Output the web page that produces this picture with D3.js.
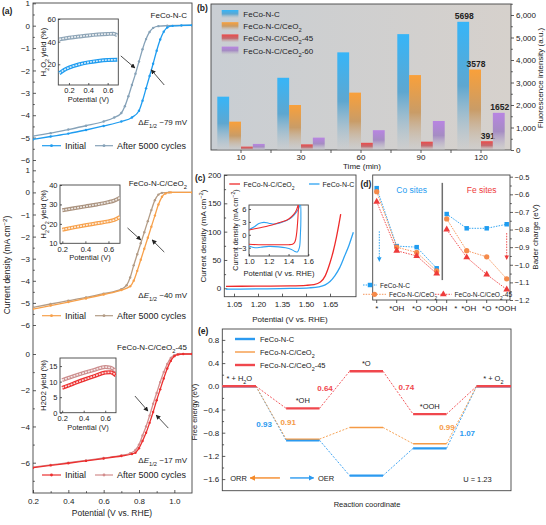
<!DOCTYPE html>
<html>
<head>
<meta charset="utf-8">
<title>FeCo-N-C / CeO2 panels</title>
<script src="https://cdnjs.cloudflare.com/ajax/libs/d3/7.8.5/d3.min.js"></script>
<style>
  body { margin: 0; background: #fff; }
  svg { font-family: "Liberation Sans", Arial, sans-serif; }
</style>
</head>
<body>
<svg id="fig" width="546" height="525"></svg>
<script>
// ---- (a) ORR polarization curves: [potential (V vs RHE), current density (mA cm-2)] ----
const ncInit   = [[0.2,-5.08],[0.3,-4.95],[0.4,-4.82],[0.5,-4.66],[0.6,-4.48],[0.7,-4.28],[0.76,-4.1],[0.8,-3.8],[0.82,-3.35],[0.84,-2.8],[0.86,-2.25],[0.88,-1.7],[0.9,-1.12],[0.92,-0.62],[0.94,-0.27],[0.96,-0.08],[0.99,-0.01],[1.04,0.01],[1.1,0.02]];
const ncAfter  = [[0.2,-4.93],[0.3,-4.8],[0.4,-4.64],[0.5,-4.47],[0.6,-4.28],[0.66,-4.1],[0.7,-3.9],[0.72,-3.6],[0.74,-3.15],[0.76,-2.65],[0.78,-2.15],[0.8,-1.6],[0.82,-1.05],[0.84,-0.6],[0.86,-0.28],[0.88,-0.1],[0.91,-0.02],[0.96,0],[1.1,0.02]];
const ceInit   = [[0.2,-5.28],[0.3,-5.12],[0.4,-4.96],[0.5,-4.8],[0.6,-4.62],[0.7,-4.42],[0.75,-4.25],[0.77,-4.0],[0.79,-3.55],[0.81,-3.05],[0.83,-2.55],[0.85,-2.05],[0.87,-1.55],[0.89,-1.05],[0.91,-0.55],[0.93,-0.2],[0.95,-0.05],[0.98,0],[1.1,0]];
const ceAfter  = [[0.2,-5.2],[0.3,-5.05],[0.4,-4.9],[0.5,-4.75],[0.6,-4.58],[0.7,-4.38],[0.73,-4.2],[0.75,-3.85],[0.77,-3.3],[0.79,-2.8],[0.81,-2.3],[0.83,-1.8],[0.85,-1.3],[0.87,-0.8],[0.89,-0.35],[0.91,-0.1],[0.93,-0.02],[0.97,0],[1.1,0]];
const c45Init  = [[0.2,-6.28],[0.3,-6.15],[0.4,-6.03],[0.5,-5.9],[0.6,-5.77],[0.7,-5.63],[0.76,-5.52],[0.78,-5.45],[0.8,-5.2],[0.82,-4.8],[0.84,-4.35],[0.86,-3.8],[0.88,-3.2],[0.9,-2.55],[0.92,-1.95],[0.94,-1.35],[0.96,-0.8],[0.98,-0.38],[1.0,-0.12],[1.02,-0.03],[1.05,0],[1.1,0]];
const c45After = [[0.2,-6.25],[0.3,-6.12],[0.4,-6.0],[0.5,-5.87],[0.6,-5.74],[0.7,-5.6],[0.75,-5.48],[0.78,-5.3],[0.8,-5.0],[0.82,-4.5],[0.84,-4.0],[0.86,-3.4],[0.88,-2.75],[0.9,-2.15],[0.92,-1.55],[0.94,-1.0],[0.96,-0.55],[0.98,-0.22],[1.0,-0.06],[1.03,0],[1.1,0]];
// insets: H2O2 yield (%) vs potential (V)
const ncYieldInit   = [[0.1,12],[0.15,15],[0.2,17],[0.3,19.8],[0.4,21.7],[0.5,23],[0.6,23.8],[0.7,24]];
const ncYieldAfter  = [[0.1,42],[0.2,43.5],[0.3,44.5],[0.4,45.5],[0.5,46.3],[0.6,46.8],[0.66,47],[0.7,45.5]];
const ceYieldInit   = [[0.2,17],[0.3,18.2],[0.4,19.3],[0.5,20.3],[0.6,21.3],[0.65,22],[0.7,23.5]];
const ceYieldAfter  = [[0.2,27],[0.3,28],[0.4,29],[0.5,30],[0.6,31.2],[0.65,32],[0.7,33.5]];
const c45YieldInit  = [[0.2,8],[0.3,9.3],[0.4,10.6],[0.5,11.8],[0.6,12.9],[0.65,13],[0.7,12]];
const c45YieldAfter = [[0.2,10.5],[0.3,11.7],[0.4,12.8],[0.5,13.8],[0.6,14.7],[0.65,14.5],[0.7,13.3]];

// ---- (b) fluorescence intensity vs time ----
const times = [10, 30, 60, 90, 120];
const samples = ['FeCo-N-C', 'FeCo-N-C/CeO2', 'FeCo-N-C/CeO2-45', 'FeCo-N-C/CeO2-60'];
const fluoNC = [2370, 3210, 4340, 5150, 5698];
const fluoCe = [1260, 2000, 2550, 3330, 3578];
const fluo45 = [150, 250, 320, 370, 391];
const fluo60 = [270, 550, 880, 1290, 1652];
const fluoTicks = [0, 1000, 2000, 3000, 4000, 5000, 6000];

// ---- (c) OER LSV and CV inset ----
const oerCe = [[1.0,3.5],[1.2,3.8],[1.4,4.3],[1.5,5.2],[1.55,6.5],[1.59,11],[1.62,22],[1.65,45],[1.67,65],[1.69,90],[1.705,112],[1.717,131]];
const oerNC = [[1.0,-1.5],[1.2,-1],[1.4,-0.3],[1.52,0.8],[1.58,2.5],[1.62,6],[1.65,12],[1.68,22],[1.71,36],[1.74,56],[1.77,77],[1.796,99]];
const cvNC = [[1.0,1.2],[1.05,1.8],[1.1,2.6],[1.15,2.9],[1.2,2.7],[1.26,2.5],[1.32,2.8],[1.38,3.3],[1.43,4.0],[1.47,5.0],[1.5,6.0],[1.52,7.2],[1.525,4],[1.52,0],[1.51,-3],[1.49,-4.0],[1.46,-3.8],[1.43,-3.4],[1.37,-3.0],[1.3,-2.8],[1.2,-2.7],[1.12,-2.9],[1.06,-3.0],[1.0,-2.6]];
const cvCe = [[1.0,1.1],[1.1,1.6],[1.2,2.1],[1.3,2.8],[1.38,3.4],[1.43,4.2],[1.47,5.3],[1.49,6.4],[1.5,7.2],[1.495,4],[1.48,0],[1.465,-1.6],[1.44,-2.2],[1.4,-2.3],[1.3,-2.3],[1.2,-2.3],[1.1,-2.3],[1.0,-2.2]];

// ---- (d) Bader charge (eV), Co sites then Fe sites ----
const dSites = ['*', '*OH', '*O', '*OOH', '*', '*OH', '*O', '*OOH'];
const dPos = [0, 1, 2, 3, 3.5, 4.5, 5.5, 6.5];
const dLabelPos = [0, 1, 2, 3, 3.95, 4.6, 5.5, 6.45];
const baderNC = [-0.565, -0.894, -0.90, -1.02, -0.712, -0.793, -0.793, -0.77];
const baderCe = [-0.585, -0.90, -0.93, -1.035, -0.74, -0.92, -0.955, -1.08];
const bader45 = [-0.642, -0.92, -0.95, -1.05, -0.80, -0.958, -1.055, -1.14];

// ---- (e) free energy diagram (eV) ----
const eSteps = ['* + H2O', '*OH', '*O', '*OOH', '* + O2'];
const gNC = [0, -0.93, -1.54, -1.07, 0];
const gCe = [0, -0.91, -0.71, -0.99, 0];
const g45 = [0, -0.38, 0.26, -0.48, 0];
// step-gap labels: [x (step units), energy, text, series]
const eGaps = [[1.35,-0.03,'0.64',2],[2.63,-0.01,'0.74',2],[0.39,-0.65,'0.93',0],[0.77,-0.61,'0.91',1],[3.27,-0.70,'0.99',1],[3.59,-0.80,'1.07',0]];

const svg = d3.select('#fig');
const defs = svg.append('defs');
const INK = '#333';

function styleAxis(g, size) {
  g.select('.domain').remove();
  g.selectAll('.tick line').attr('stroke', INK).attr('stroke-width', 0.8);
  g.selectAll('.tick text').attr('font-size', size).attr('fill', '#222');
  return g;
}
function frame(x0, y0, x1, y1, fill) {
  return svg.append('rect').attr('x', x0).attr('y', y0).attr('width', x1 - x0).attr('height', y1 - y0)
    .attr('fill', fill || 'none').attr('stroke', '#444').attr('stroke-width', 0.9);
}
function clip(id, x0, y0, x1, y1) {
  defs.append('clipPath').attr('id', id).append('rect')
    .attr('x', x0).attr('y', y0).attr('width', x1 - x0).attr('height', y1 - y0);
  return 'url(#' + id + ')';
}
// parts: strings or {sub}, {sup}, {i}
function rich(sel, parts) {
  parts.forEach(p => {
    const t = sel.append('tspan');
    if (typeof p === 'string') t.text(p);
    else if (p.sub) t.attr('baseline-shift', 'sub').attr('font-size', '72%').text(p.sub);
    else if (p.sup) t.attr('baseline-shift', 'super').attr('font-size', '72%').text(p.sup);
    else if (p.i) t.attr('font-style', 'italic').text(p.i);
  });
  return sel;
}
function text(x, y, parts, size, opt = {}) {
  const t = svg.append('text').attr('x', x).attr('y', y).attr('font-size', size)
    .attr('fill', opt.fill || '#222').attr('text-anchor', opt.anchor || 'start');
  if (opt.bold) t.attr('font-weight', 'bold');
  if (opt.rot) t.attr('transform', `rotate(-90,${x},${y})`);
  return rich(t, typeof parts === 'string' ? [parts] : parts);
}
function arrowMarker(id, color, w) {
  defs.append('marker').attr('id', id).attr('viewBox', '0 0 10 10').attr('refX', 9).attr('refY', 5)
    .attr('markerWidth', w).attr('markerHeight', w).attr('orient', 'auto')
    .append('path').attr('d', 'M0,0L10,5L0,10z').attr('fill', color);
}
arrowMarker('arrK', '#222', 6);
arrowMarker('arrB', '#1e9cf0', 5);
arrowMarker('arrR', '#ee3b3b', 5);
arrowMarker('arrO', '#f58a2a', 4);
arrowMarker('arrE', '#2b9af0', 4);

const cdLabel = ['Current density (mA cm', {sup: '\u22122'}, ')'];
const h2o2Label = ['H', {sub: '2'}, 'O', {sub: '2'}, ' yield (%)'];

// ======================= (a) =======================
const ax = d3.scaleLinear([0.2, 1.1], [33, 192]);
const aSubs = [
  { y: d3.scaleLinear([1, -6], [3.3, 160]), top: 3, bot: 168, ticks: [1,0,-1,-2,-3,-4,-5,-6],
    init: ncInit, after: ncAfter, cI: '#1e9cf0', cA: '#86a2b8', legY: 145.7, nameY: 18,
    name: ['FeCo-N-C'], de: ' ~79 mV', deY: 124.5,
    arrows: [[[0.697,-1.35],[0.777,-1.89]], [[0.943,-2.65],[0.869,-1.97]]],
    inset: { f: [58.3, 19, 118.3, 85], x: [0.09, 0.71], y: d3.scaleLinear([60, 20], [19, 64.3]),
             yt: [20, 40, 60], init: ncYieldInit, after: ncYieldAfter, cA: '#8ea5b7', lab: h2o2Label } },
  { y: d3.scaleLinear([1, -6], [170.3, 325]), top: 168, bot: 337, ticks: [1,0,-1,-2,-3,-4,-5,-6],
    init: ceInit, after: ceAfter, cI: '#f7a04a', cA: '#b39c86', legY: 315.7, nameY: 186,
    name: ['FeCo-N-C/CeO', {sub: '2'}], de: ' ~40 mV', deY: 298,
    arrows: [[[0.735,-1.61],[0.81,-2.15]], [[0.943,-2.70],[0.874,-2.15]]],
    inset: { f: [60, 185, 120, 243.3], x: [0.18, 0.7], y: d3.scaleLinear([40, 10], [185, 243.3]),
             yt: [10, 20, 30, 40], init: ceYieldInit, after: ceYieldAfter, cA: '#aa927e', lab: h2o2Label } },
  { y: d3.scaleLinear([0, -6], [354, 462.7]), top: 337, bot: 493, ticks: [0,-2,-4,-6],
    init: c45Init, after: c45After, cI: '#ec2f2f', cA: '#d38d8d', legY: 475, nameY: 349.5,
    name: ['FeCo-N-C/CeO', {sub: '2'}, '-45'], de: ' ~17 mV', deY: 463,
    arrows: [[[0.777,-2.32],[0.851,-3.15]], [[0.966,-4.09],[0.897,-3.37]]],
    inset: { f: [60, 358, 116, 412.7], x: [0.18, 0.7], y: d3.scaleLinear([0, 17.6], [412.7, 358]),
             yt: [0, 5, 10, 15], init: c45YieldInit, after: c45YieldAfter, cA: '#cc8d8d', lab: 'H2O2 yield (%)' } }
];

frame(33, 3, 192, 493);
aSubs.forEach((s, k) => {
  styleAxis(svg.append('g').attr('transform', 'translate(33,0)')
    .call(d3.axisLeft(s.y).tickValues(s.ticks).tickSize(-3).tickPadding(3).tickFormat(d3.format('d'))), 8);
  const minor = s.ticks.slice(0, -1).map((t, i) => (t + s.ticks[i + 1]) / 2).concat([s.ticks[s.ticks.length - 1] - (s.ticks[0] - s.ticks[1]) / 2]);
  styleAxis(svg.append('g').attr('transform', 'translate(33,0)')
    .call(d3.axisLeft(s.y).tickValues(minor.filter(v => s.y(v) < s.bot - 1)).tickSize(-1.8).tickFormat('')), 8);

  const cp = clip('aclip' + k, 33, s.top, 192, s.bot);
  const line = d3.line().x(d => ax(d[0])).y(d => s.y(d[1])).curve(d3.curveMonotoneX);
  const g = svg.append('g').attr('clip-path', cp);
  [[s.after, s.cA], [s.init, s.cI]].forEach(([data, col]) => {
    g.append('path').datum(data).attr('d', line).attr('fill', 'none').attr('stroke', col).attr('stroke-width', 1.3);
    g.selectAll(null).data(data).join('circle').attr('cx', d => ax(d[0])).attr('cy', d => s.y(d[1]))
      .attr('r', 1.2).attr('fill', col);
  });

  // arrows
  s.arrows.forEach(a => svg.append('line')
    .attr('x1', ax(a[0][0])).attr('y1', s.y(a[0][1])).attr('x2', ax(a[1][0])).attr('y2', s.y(a[1][1]))
    .attr('stroke', '#222').attr('stroke-width', 0.8).attr('marker-end', 'url(#arrK)'));

  // labels
  text(187, s.nameY, s.name, 8, { anchor: 'end' });
  text(187, s.deY, ['\u0394', {i: 'E'}, {sub: '1/2'}, s.de], 8, { anchor: 'end' });

  // legend
  [[42, 61, s.cI, 'Initial', 65], [95, 113, s.cA, 'After 5000 cycles', 117]].forEach(([x1, x2, col, lab, tx]) => {
    svg.append('line').attr('x1', x1).attr('x2', x2).attr('y1', s.legY).attr('y2', s.legY)
      .attr('stroke', col).attr('stroke-width', 1.2);
    svg.append('circle').attr('cx', (x1 + x2) / 2).attr('cy', s.legY).attr('r', 1.4).attr('fill', col);
    text(tx, s.legY + 3.2, lab, 9);
  });

  // inset
  const ins = s.inset, f = ins.f;
  const ix = d3.scaleLinear(ins.x, [f[0], f[2]]);
  frame(f[0], f[1], f[2], f[3], '#fff');
  styleAxis(svg.append('g').attr('transform', `translate(0,${f[3]})`)
    .call(d3.axisBottom(ix).tickValues([0.2, 0.4, 0.6]).tickSize(-2).tickPadding(3).tickFormat(d3.format('.1f'))), 7.5);
  styleAxis(svg.append('g').attr('transform', `translate(${f[0]},0)`)
    .call(d3.axisLeft(ins.y).tickValues(ins.yt).tickSize(-2).tickPadding(2.5)), 7.5);
  const icp = clip('iclip' + k, f[0], f[1], f[2], f[3]);
  const il = d3.line().x(d => ix(d[0])).y(d => ins.y(d[1])).curve(d3.curveMonotoneX);
  const ig = svg.append('g').attr('clip-path', icp);
  [[ins.after, ins.cA], [ins.init, s.cI]].forEach(([data, col]) => {
    ig.append('path').datum(data).attr('d', il).attr('fill', 'none').attr('stroke', col).attr('stroke-width', 4);
    ig.append('path').datum(data).attr('d', il).attr('fill', 'none').attr('stroke', '#fff')
      .attr('stroke-width', 1.6).attr('stroke-opacity', 0.8).attr('stroke-dasharray', '2,1');
  });
  text((f[0] + f[2]) / 2, f[3] + 17, 'Potential (V)', 7.5, { anchor: 'middle' });
  text(46, (f[1] + f[3]) / 2, ins.lab, 7.5, { anchor: 'middle', rot: true });
});
styleAxis(svg.append('g').attr('transform', 'translate(0,493)')
  .call(d3.axisBottom(ax).tickValues([0.2, 0.4, 0.6, 0.8, 1.0]).tickSize(-3).tickPadding(5).tickFormat(d3.format('.1f'))), 8);
styleAxis(svg.append('g').attr('transform', 'translate(0,493)')
  .call(d3.axisBottom(ax).tickValues([0.3, 0.5, 0.7, 0.9]).tickSize(-1.8).tickFormat('')), 8);
text(112, 516, 'Potential (V vs. RHE)', 8.5, { anchor: 'middle' });
text(10, 265, cdLabel, 8.5, { anchor: 'middle', rot: true });
text(2, 14, '(a)', 8.5, { bold: true });

// ======================= (b) =======================
const bx0 = d3.scaleBand(times, [211, 511]).paddingInner(0.21).paddingOuter(0.105);
const bx1 = d3.scaleBand(samples, [0, bx0.bandwidth()]);
const by = d3.scaleLinear([0, 6500], [150, 3.75]);
const bSeries = [fluoNC, fluoCe, fluo45, fluo60];
const bCols = ['#36b5f8', '#f9a03a', '#ec4a4a', '#b884e2'];

const bgGrad = defs.append('linearGradient').attr('id', 'bbg').attr('x1', 0).attr('x2', 1).attr('y1', 0).attr('y2', 0);
bgGrad.append('stop').attr('offset', 0).attr('stop-color', '#c9ced3');
bgGrad.append('stop').attr('offset', 1).attr('stop-color', '#d6d1cc');
frame(211, 4, 511, 150, 'url(#bbg)');
bCols.forEach((c, k) => {
  const gr = defs.append('linearGradient').attr('id', 'bar' + k).attr('x1', 0).attr('x2', 0).attr('y1', 0).attr('y2', 1);
  gr.append('stop').attr('offset', 0).attr('stop-color', c);
  gr.append('stop').attr('offset', 0.5).attr('stop-color', d3.interpolateRgb(c, '#8e969e')(0.45));
  gr.append('stop').attr('offset', 1).attr('stop-color', '#c8cacc').attr('stop-opacity', 0.4);
});
samples.forEach((s, k) => {
  svg.append('g').selectAll('rect').data(times).join('rect')
    .attr('x', t => bx0(t) + bx1(s)).attr('width', bx1.bandwidth())
    .attr('y', (t, i) => by(bSeries[k][i])).attr('height', (t, i) => by(0) - by(bSeries[k][i]))
    .attr('fill', `url(#bar${k})`);
  const last = times.length - 1;
  text(bx0(times[last]) + bx1(s) + bx1.bandwidth() / 2 + 1, by(bSeries[k][last]) - 2.5,
    String(bSeries[k][last]), 8.5, { anchor: 'middle', bold: true });
});
styleAxis(svg.append('g').attr('transform', 'translate(0,150)')
  .call(d3.axisBottom(bx0).tickSize(3).tickPadding(1)), 8);
svg.append('g').selectAll('line').data(times.slice(0, -1)).join('line')
  .attr('x1', t => bx0(t) + bx0.bandwidth() / 2 + bx0.step() / 2).attr('x2', t => bx0(t) + bx0.bandwidth() / 2 + bx0.step() / 2)
  .attr('y1', 150).attr('y2', 153).attr('stroke', INK).attr('stroke-width', 0.8);
styleAxis(svg.append('g').attr('transform', 'translate(511,0)')
  .call(d3.axisRight(by).tickValues(fluoTicks).tickSize(3).tickPadding(2)), 8);
styleAxis(svg.append('g').attr('transform', 'translate(511,0)')
  .call(d3.axisRight(by).tickValues(fluoTicks.map(v => v + 500)).tickSize(1.8).tickFormat('')), 8);
const bNames = [['FeCo-N-C'], ['FeCo-N-C/CeO', {sub: '2'}], ['FeCo-N-C/CeO', {sub: '2'}, '-45'], ['FeCo-N-C/CeO', {sub: '2'}, '-60']];
bNames.forEach((n, k) => {
  const yy = 14 + k * 12.2;
  svg.append('rect').attr('x', 221.7).attr('y', yy - 4).attr('width', 16.7).attr('height', 8).attr('fill', `url(#bar${k})`);
  text(243.3, yy + 3, n, 8);
});
text(362, 168.5, 'Time (min)', 8, { anchor: 'middle' });
text(543, 78, 'Fluorescence intensity (a.u.)', 8, { anchor: 'middle', rot: true });
text(197, 11, '(b)', 8.5, { bold: true });

// ======================= (c) =======================
const cx = d3.scaleLinear([1.05, 1.65], [234, 330]);
const cy = d3.scaleLinear([0, 200], [288.3, 175]);
frame(224.3, 175, 356, 296.7);
styleAxis(svg.append('g').attr('transform', 'translate(224.3,0)')
  .call(d3.axisLeft(cy).tickValues([0, 50, 100, 150, 200]).tickSize(-3).tickPadding(3)), 8);
styleAxis(svg.append('g').attr('transform', 'translate(224.3,0)')
  .call(d3.axisLeft(cy).tickValues([25, 75, 125, 175]).tickSize(-1.8).tickFormat('')), 8);
styleAxis(svg.append('g').attr('transform', 'translate(0,296.7)')
  .call(d3.axisBottom(cx).tickValues([1.05, 1.2, 1.35, 1.5, 1.65]).tickSize(-3).tickPadding(5).tickFormat(d3.format('.2f'))), 8);
const ccp = clip('cclip', 224.3, 175, 356, 296.7);
const cline = d3.line().x(d => cx(d[0])).y(d => cy(d[1])).curve(d3.curveMonotoneX);
const cg = svg.append('g').attr('clip-path', ccp);
cg.append('path').datum(oerNC).attr('d', cline).attr('fill', 'none').attr('stroke', '#2ea3f2').attr('stroke-width', 1.3);
cg.append('path').datum(oerCe).attr('d', cline).attr('fill', 'none').attr('stroke', '#ee2a2a').attr('stroke-width', 1.3);
// legend
svg.append('line').attr('x1', 229.3).attr('x2', 240).attr('y1', 184).attr('y2', 184).attr('stroke', '#ee2a2a').attr('stroke-width', 1.3);
text(243.5, 186.6, ['FeCo-N-C/CeO', {sub: '2'}], 7);
svg.append('line').attr('x1', 309).attr('x2', 319.5).attr('y1', 184).attr('y2', 184).attr('stroke', '#2ea3f2').attr('stroke-width', 1.3);
text(322.5, 186.6, 'FeCo-N-C', 7);
// inset CV
const cix = d3.scaleLinear([1.0, 1.6], [249, 308.3]);
const ciy = d3.scaleLinear([-3, 6], [247.7, 209]);
frame(249, 205, 308.3, 256, '#fff');
styleAxis(svg.append('g').attr('transform', 'translate(249,0)')
  .call(d3.axisLeft(ciy).tickValues([-3, 0, 3, 6]).tickSize(-2).tickPadding(2.5)), 7.5);
styleAxis(svg.append('g').attr('transform', 'translate(0,256)')
  .call(d3.axisBottom(cix).tickValues([1.0, 1.2, 1.4, 1.6]).tickSize(-2).tickPadding(3).tickFormat(d3.format('.1f'))), 7.5);
const cicp = clip('ciclip', 249, 205, 308.3, 256);
const cvl = d3.line().x(d => cix(d[0])).y(d => ciy(d[1])).curve(d3.curveCatmullRom.alpha(0.5));
const cig = svg.append('g').attr('clip-path', cicp);
cig.append('path').datum(cvNC).attr('d', cvl).attr('fill', 'none').attr('stroke', '#2ea3f2').attr('stroke-width', 1.1);
cig.append('path').datum(cvCe).attr('d', cvl).attr('fill', 'none').attr('stroke', '#ee2a2a').attr('stroke-width', 1.1);
text(279, 276, 'Potential (V vs. RHE)', 7.5, { anchor: 'middle' });
text(238, 230, cdLabel, 7, { anchor: 'middle', rot: true });
text(206, 236, cdLabel, 8, { anchor: 'middle', rot: true });
text(290, 322, 'Potential (V vs. RHE)', 8, { anchor: 'middle' });
text(195, 181, '(c)', 8.5, { bold: true });

// ======================= (d) =======================
const dx = d3.scaleLinear([0, 6.5], [376.7, 506.7]);
const dy = d3.scaleLinear([-0.5, -1.2], [176.7, 300]);
frame(372.7, 175, 510, 300);
styleAxis(svg.append('g').attr('transform', 'translate(510,0)')
  .call(d3.axisRight(dy).tickValues(d3.range(-0.5, -1.25, -0.1)).tickSize(3).tickPadding(1.5).tickFormat(d3.format('.1f'))), 7.5);
styleAxis(svg.append('g').attr('transform', 'translate(510,0)')
  .call(d3.axisRight(dy).tickValues(d3.range(-0.55, -1.2, -0.1)).tickSize(1.8).tickFormat('')), 8);
const dAxis = svg.append('g').attr('transform', 'translate(0,300)');
dAxis.selectAll('line').data(dPos).join('line').attr('x1', p => dx(p)).attr('x2', p => dx(p))
  .attr('y1', 0).attr('y2', 3).attr('stroke', INK).attr('stroke-width', 0.8);
dSites.forEach((s, i) => text(dx(dLabelPos[i]), 311, s, 8, { anchor: 'middle' }));
svg.append('line').attr('x1', dx(3.28)).attr('x2', dx(3.28)).attr('y1', dy(-0.535)).attr('y2', dy(-1.087))
  .attr('stroke', '#6f6f6f').attr('stroke-width', 1.5);
const dSeries = [
  { v: baderNC, c: '#1e9cf0', sym: d3.symbolSquare, size: 20, name: ['FeCo-N-C'] },
  { v: baderCe, c: '#f58a4a', sym: d3.symbolCircle, size: 22, name: ['FeCo-N-C/CeO', {sub: '2'}] },
  { v: bader45, c: '#ee3b3b', sym: d3.symbolTriangle, size: 20, name: ['FeCo-N-C/CeO', {sub: '2'}, '-45'] }
];
const dl = d3.line().x(d => dx(d[0])).y(d => dy(d[1]));
dSeries.forEach(s => {
  const pts = dPos.map((p, i) => [p, s.v[i]]);
  [pts.slice(0, 4), pts.slice(4)].forEach(seg => svg.append('path').datum(seg).attr('d', dl)
    .attr('fill', 'none').attr('stroke', s.c).attr('stroke-width', 0.9).attr('stroke-dasharray', '1.5,1.2'));
  svg.append('g').selectAll('path').data(pts).join('path')
    .attr('transform', d => `translate(${dx(d[0])},${dy(d[1])})`)
    .attr('d', d3.symbol(s.sym, s.size)).attr('fill', s.c);
});
svg.append('line').attr('x1', dx(0.13)).attr('x2', dx(0.13)).attr('y1', dy(-0.81)).attr('y2', dy(-0.98))
  .attr('stroke', '#1e9cf0').attr('stroke-width', 0.9).attr('stroke-dasharray', '1.5,1.2').attr('marker-end', 'url(#arrB)');
svg.append('line').attr('x1', dx(6.5)).attr('x2', dx(6.5)).attr('y1', dy(-0.82)).attr('y2', dy(-0.97))
  .attr('stroke', '#ee3b3b').attr('stroke-width', 0.9).attr('stroke-dasharray', '1.5,1.2').attr('marker-end', 'url(#arrR)');
text(411.7, 192.5, 'Co sites', 8.5, { anchor: 'middle', fill: '#1e9cf0' });
text(481.7, 192.5, 'Fe sites', 8.5, { anchor: 'middle', fill: '#ee3b3b' });
// legend
[[363, 377, 285, 380, 0], [363, 386, 294.3, 389, 1], [435, 451.7, 294.3, 454.5, 2]].forEach(([x1, x2, yy, tx, k]) => {
  const s = dSeries[k];
  svg.append('line').attr('x1', x1).attr('x2', x2).attr('y1', yy).attr('y2', yy)
    .attr('stroke', s.c).attr('stroke-width', 0.9).attr('stroke-dasharray', '1.5,1.2');
  svg.append('path').attr('transform', `translate(${(x1 + x2) / 2},${yy})`).attr('d', d3.symbol(s.sym, s.size)).attr('fill', s.c);
  text(tx, yy + 2.5, s.name, 6.6);
});
text(538, 237, 'Bader charge (eV)', 8, { anchor: 'middle', rot: true });
text(360.5, 187, '(d)', 8.5, { bold: true });

// ======================= (e) =======================
const ex = d3.scaleLinear([0, 4], [239.3, 493.3]);
const ey = d3.scaleLinear([-1.8, 1.0], [490.7, 328.3]);
const hw = 16.7;
frame(222.3, 329, 511, 490.7);
styleAxis(svg.append('g').attr('transform', 'translate(222.3,0)')
  .call(d3.axisLeft(ey).tickValues([0.8, 0.4, 0, -0.4, -0.8, -1.2, -1.6]).tickSize(-3).tickPadding(3).tickFormat(d3.format('.1f'))), 8);
styleAxis(svg.append('g').attr('transform', 'translate(222.3,0)')
  .call(d3.axisLeft(ey).tickValues([0.6, 0.2, -0.2, -0.6, -1.0, -1.4]).tickSize(-1.8).tickFormat('')), 8);
const eSeries = [
  { g: gNC, c: '#2b9af0', w: 2.4, name: ['FeCo-N-C'] },
  { g: gCe, c: '#f59a45', w: 1.4, name: ['FeCo-N-C/CeO', {sub: '2'}] },
  { g: g45, c: '#f0474d', w: 2.4, name: ['FeCo-N-C/CeO', {sub: '2'}, '-45'] }
];
const xL = i => i === 0 ? 222.3 : ex(i) - hw;
const xR = i => i === eSteps.length - 1 ? 511 : ex(i) + hw;
eSeries.forEach(s => {
  s.g.slice(0, -1).forEach((v, i) => svg.append('line')
    .attr('x1', xR(i)).attr('y1', ey(v)).attr('x2', xL(i + 1)).attr('y2', ey(s.g[i + 1]))
    .attr('stroke', s.c).attr('stroke-width', 0.9).attr('stroke-dasharray', '2,1.5'));
  svg.append('g').selectAll('line').data(s.g).join('line')
    .attr('x1', (v, i) => xL(i)).attr('x2', (v, i) => xR(i)).attr('y1', v => ey(v)).attr('y2', v => ey(v))
    .attr('stroke', s.c).attr('stroke-width', s.w);
});
const stepParts = [['* + H', {sub: '2'}, 'O'], ['*OH'], ['*O'], ['*OOH'], ['* + O', {sub: '2'}]];
eSteps.forEach((s, i) => {
  const top = d3.max(eSeries, d => d.g[i]);
  text(ex(i), ey(top) - 5, stepParts[i], 7.5, { anchor: 'middle' });
});
eGaps.forEach(([p, v, t, k]) => text(ex(p), ey(v) + 3, t, 8, { anchor: 'middle', bold: true, fill: eSeries[k].c }));
eSeries.forEach((s, k) => {
  const yy = [339, 352, 365][k];
  svg.append('line').attr('x1', 235).attr('x2', 255).attr('y1', yy).attr('y2', yy).attr('stroke', s.c).attr('stroke-width', s.w);
  text(260, yy + 2.8, s.name, 7.5);
});
svg.append('line').attr('x1', ex(0.64)).attr('x2', ex(0.17)).attr('y1', ey(-1.58)).attr('y2', ey(-1.58))
  .attr('stroke', '#f58a2a').attr('stroke-width', 1.4).attr('marker-end', 'url(#arrO)');
svg.append('line').attr('x1', ex(0.8)).attr('x2', ex(1.17)).attr('y1', ey(-1.58)).attr('y2', ey(-1.58))
  .attr('stroke', '#2b9af0').attr('stroke-width', 1.4).attr('marker-end', 'url(#arrE)');
text(ex(0.12), ey(-1.58) + 2.8, 'ORR', 7.5, { anchor: 'end' });
text(ex(1.24), ey(-1.58) + 2.8, 'OER', 7.5);
text(ex(3.75), ey(-1.6) + 2.8, 'U = 1.23', 7.5, { anchor: 'middle' });
text(367, 507, 'Reaction coordinate', 7.5, { anchor: 'middle' });
text(197, 412, 'Free energy (eV)', 7.5, { anchor: 'middle', rot: true });
text(198, 334, '(e)', 8.5, { bold: true });
</script>
</body>
</html>
